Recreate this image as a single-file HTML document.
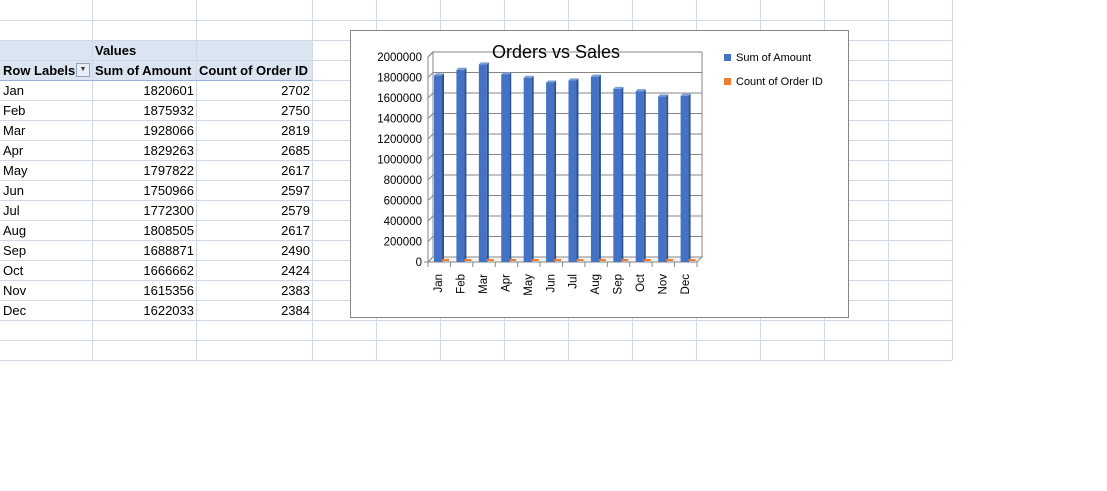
<!DOCTYPE html>
<html><head><meta charset="utf-8"><style>
body{margin:0;width:1107px;height:491px;background:#fff;font-family:"Liberation Sans",Calibri,sans-serif;overflow:hidden;position:relative}
.cell{position:absolute;font-size:13px;line-height:20px;white-space:nowrap}
</style></head><body>
<svg id="grid" width="1107" height="491" style="position:absolute;left:0;top:0">
<rect x="0" y="40" width="312" height="40" fill="#dbe5f1"/>
<g id="gl" stroke="#d0d7e5" stroke-width="1"></g>
<line x1="0" y1="80.5" x2="312" y2="80.5" stroke="#95b3d7"/>
</svg>
<div class="cell" style="left:95px;top:41px;font-weight:bold">Values</div>
<div class="cell" style="left:3px;top:61px;font-weight:bold">Row Labels</div>
<div style="position:absolute;left:76px;top:63px;width:14px;height:14px;border:1px solid #8ea3bf;background:#e8edf5;box-sizing:border-box;font-size:7px;line-height:12px;text-align:center;color:#333">▼</div>
<div class="cell" style="left:95px;top:61px;font-weight:bold">Sum of Amount</div>
<div class="cell" style="left:199px;top:61px;font-weight:bold">Count of Order ID</div>
<div id="rows"></div>
<div style="position:absolute;left:350px;top:30px;width:497px;height:286px;border:1px solid #868686;background:#fff"></div>
<svg id="chart" width="1107" height="491" style="position:absolute;left:0;top:0"></svg>
<script>
const months=["Jan","Feb","Mar","Apr","May","Jun","Jul","Aug","Sep","Oct","Nov","Dec"];
const amounts=[1820601,1875932,1928066,1829263,1797822,1750966,1772300,1808505,1688871,1666662,1615356,1622033];
const counts=[2702,2750,2819,2685,2617,2597,2579,2617,2490,2424,2383,2384];
const yTicks=[0,200000,400000,600000,800000,1000000,1200000,1400000,1600000,1800000,2000000];
const NS="http://www.w3.org/2000/svg";
function mk(p,t,a){const e=document.createElementNS(NS,t);for(const k in a)e.setAttribute(k,a[k]);p.appendChild(e);return e;}
const gl=document.getElementById('gl');
[92,196,312,376,440,504,568,632,696,760,824,888,952].forEach(x=>mk(gl,'line',{x1:x+.5,y1:0,x2:x+.5,y2:360}));
for(let y=20;y<=360;y+=20)mk(gl,'line',{x1:0,y1:y+.5,x2:952,y2:y+.5});
const rows=document.getElementById('rows');
months.forEach((m,i)=>{const y=81+i*20;
 let d=document.createElement('div');d.className='cell';d.style.cssText=`left:3px;top:${y}px`;d.textContent=m;
 
 rows.appendChild(d);
 d=document.createElement('div');d.className='cell';d.style.cssText=`right:${1107-194}px;top:${y}px`;d.textContent=amounts[i];
 
 rows.appendChild(d);
 d=document.createElement('div');d.className='cell';d.style.cssText=`right:${1107-310}px;top:${y}px`;d.textContent=counts[i];
 
 rows.appendChild(d);
});
const svg=document.getElementById('chart');
const x0=428,x1=697,y0=262,yTop=57,dx=5,dy=5,maxV=2000000;
const Y=v=>y0-(v/maxV)*(y0-yTop);
const cw=(x1-x0)/12;
const X=i=>x0+i*cw;
mk(svg,'polygon',{points:`${x0},${y0} ${x0+dx},${y0-dy} ${x0+dx},${yTop-dy} ${x0},${yTop}`,fill:'#fff',stroke:'#868686'});
yTicks.forEach(t=>{const y=Y(t);
 const l=mk(svg,'polyline',{points:`${x0},${y} ${x0+dx},${y-dy} ${x1+dx},${y-dy}`,fill:'none',stroke:'#868686'});
 
 
 const tx=mk(svg,'text',{x:x0-6,y:y+4,'text-anchor':'end','font-size':'11.5','font-family':'Liberation Sans, sans-serif',fill:'#000'});
 tx.textContent=t;
 
 
});
mk(svg,'line',{x1:x1+dx,y1:yTop-dy,x2:x1+dx,y2:y0-dy,stroke:'#868686'});
mk(svg,'polygon',{points:`${x0},${y0} ${x1},${y0} ${x1+dx},${y0-dy} ${x0+dx},${y0-dy}`,fill:'#f2f2f2',stroke:'#868686'});
mk(svg,'line',{x1:x0,y1:yTop,x2:x0,y2:y0+4,stroke:'#868686'});
mk(svg,'line',{x1:x0-4,y1:y0,x2:x0,y2:y0,stroke:'#868686'});
months.forEach((m,i)=>{
 const cx=X(i);
 mk(svg,'line',{x1:cx,y1:y0,x2:cx,y2:y0+5,stroke:'#868686'});
 const bx=cx+6,bw=8,by=Y(amounts[i]);
 const g=mk(svg,'g',{});
 
 
 mk(g,'rect',{x:bx,y:by,width:bw,height:y0-by,fill:'#4472c4'});
 mk(g,'polygon',{points:`${bx+bw},${by} ${bx+bw+2},${by-2} ${bx+bw+2},${y0-2} ${bx+bw},${y0}`,fill:'#2f528f'});
 mk(g,'polygon',{points:`${bx},${by} ${bx+2},${by-2} ${bx+bw+2},${by-2} ${bx+bw},${by}`,fill:'#7b9cd6'});
 const ox=cx+14,oy=Y(counts[i]);
 const o=mk(svg,'rect',{x:ox,y:Math.min(oy,y0-2)-1,width:7,height:Math.max(y0-oy,1)+1,fill:'#ed7d31'});
 
 
 const lx=cx+cw/2+3;
 const t=mk(svg,'text',{x:lx,y:y0+12,transform:`rotate(-90 ${lx} ${y0+12})`,'text-anchor':'end','font-size':'11.5','font-family':'Liberation Sans, sans-serif'});
 t.textContent=m;
 
 
});
mk(svg,'line',{x1:x1,y1:y0,x2:x1,y2:y0+5,stroke:'#868686'});
const title=mk(svg,'text',{x:556,y:58,'text-anchor':'middle','font-size':'18','font-family':'Liberation Sans, sans-serif'});
title.textContent='Orders vs Sales';


[['Sum of Amount','#4472c4',57],['Count of Order ID','#ed7d31',81]].forEach(([n,c,y],k)=>{
 const g=mk(svg,'g',{});
 
 
 mk(g,'rect',{x:724,y:y-3,width:7,height:7,fill:c});
 const t=mk(g,'text',{x:736,y:y+4,'font-size':'11','font-family':'Liberation Sans, sans-serif'});t.textContent=n;
});
</script>
</body></html>
